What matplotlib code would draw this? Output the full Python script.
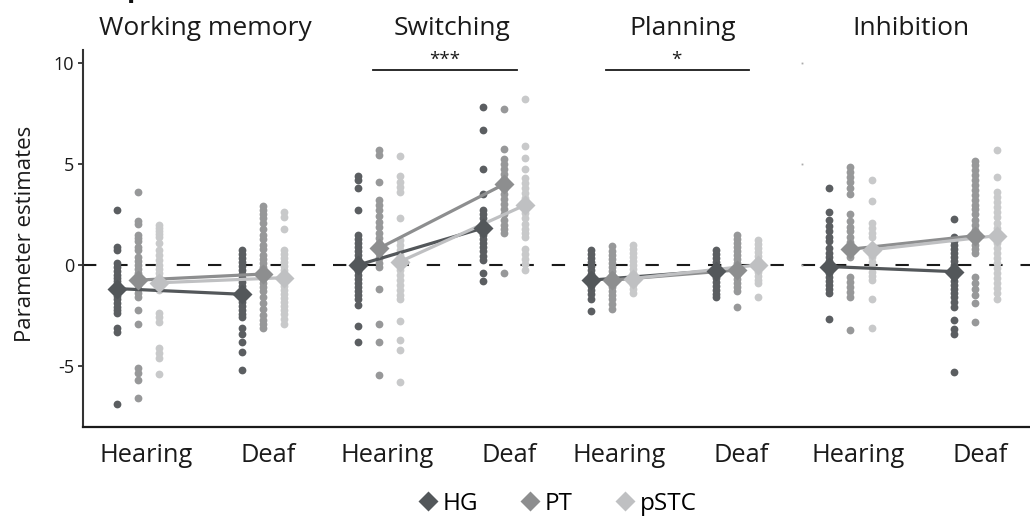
import matplotlib
matplotlib.use("Agg")
import matplotlib.pyplot as plt
from matplotlib.lines import Line2D
from matplotlib.transforms import blended_transform_factory

plt.rcParams['font.family'] = ['Open Sans', 'DejaVu Sans']

# ---------------- data ----------------
tasks = ["Working memory", "Switching", "Planning", "Inhibition"]
groups = ["Hearing", "Deaf"]
regions = ["HG", "PT", "pSTC"]

# group means (Hearing, Deaf) per task
means_HG = [[-1.17, -1.45], [0.0, 1.83], [-0.75, -0.28], [-0.08, -0.33]]
means_PT = [[-0.75, -0.45], [0.83, 4.0], [-0.75, -0.25], [0.78, 1.45]]
means_pSTC = [[-0.88, -0.63], [0.17, 2.97], [-0.67, 0.0], [0.75, 1.45]]

# individual estimates: (Hearing, Deaf)
wm_HG = ([2.7, 0.9, 0.75, 0.1, -0.1, -0.3, -0.5, -0.65, -0.8, -0.95, -1.1, -1.25, -1.4, -1.55, -1.7, -1.9, -2.1, -2.25, -2.4, -3.1, -3.3, -6.9],
         [0.75, 0.55, 0.35, 0.15, -0.05, -0.25, -0.45, -0.65, -0.85, -1.05, -1.25, -1.45, -1.65, -1.85, -2.05, -2.25, -2.45, -2.6, -3.1, -3.4, -3.8, -4.3, -5.2])
wm_PT = ([3.6, 2.2, 2.05, 1.5, 1.35, 1.2, 0.9, 0.75, 0.4, 0.2, 0.0, -0.2, -0.4, -0.6, -0.8, -1.0, -1.2, -1.4, -1.6, -2.25, -2.9, -5.1, -5.35, -5.7, -6.6],
         [2.9, 2.7, 2.5, 2.3, 2.1, 1.8, 1.5, 1.3, 1.0, 0.8, 0.5, 0.3, 0.1, -0.1, -0.3, -0.5, -0.7, -0.9, -1.1, -1.3, -1.6, -1.9, -2.2, -2.5, -2.7, -2.9, -3.1])
wm_pSTC = ([2.0, 1.85, 1.7, 1.55, 1.4, 1.1, 0.75, 0.5, 0.25, 0.0, -0.2, -0.4, -0.6, -0.8, -1.0, -1.25, -2.4, -2.6, -2.8, -4.1, -4.35, -4.6, -5.4],
           [2.6, 2.35, 1.8, 0.75, 0.55, 0.35, 0.15, -0.05, -0.25, -0.45, -0.65, -0.85, -1.05, -1.25, -1.45, -1.65, -1.85, -2.05, -2.25, -2.45, -2.65, -2.9])

sw_HG = ([4.4, 4.2, 3.8, 2.7, 1.5, 1.3, 1.1, 0.9, 0.7, 0.5, 0.3, 0.1, -0.1, -0.3, -0.5, -0.7, -0.9, -1.1, -1.3, -1.5, -1.7, -2.0, -3.0, -3.8],
         [7.8, 6.7, 4.75, 3.5, 2.7, 2.5, 2.3, 2.1, 1.9, 1.7, 1.5, 1.3, 1.1, 0.9, 0.7, 0.45, 0.25, -0.4, -0.8])
sw_PT = ([5.7, 5.45, 4.1, 3.2, 2.95, 2.7, 2.4, 2.15, 1.9, 1.6, 1.35, 1.1, 0.85, 0.6, 0.35, 0.1, -0.1, -1.2, -2.9, -3.8, -5.45],
         [7.7, 5.75, 5.25, 5.0, 4.75, 4.5, 4.25, 4.0, 3.75, 3.5, 3.25, 3.0, 2.75, 2.5, 2.25, 2.0, 1.8, 1.6, -0.4])
sw_pSTC = ([5.4, 4.4, 4.1, 3.85, 3.6, 2.3, 1.25, 1.0, 0.75, 0.5, 0.25, 0.0, -0.25, -0.5, -0.75, -1.0, -1.25, -1.5, -1.7, -2.75, -3.7, -4.2, -5.8],
           [8.2, 5.9, 5.3, 4.75, 4.3, 4.05, 3.8, 3.55, 3.3, 3.05, 2.8, 2.55, 2.3, 2.05, 1.8, 1.6, 1.4, 0.8, 0.55, 0.3, 0.05, -0.25])

pl_HG = ([0.75, 0.55, 0.35, 0.15, -0.05, -0.25, -0.45, -0.65, -0.85, -1.05, -1.25, -1.45, -1.67, -2.3],
         [0.75, 0.55, 0.35, 0.15, -0.05, -0.25, -0.45, -0.65, -0.85, -1.05, -1.25, -1.45, -1.6])
pl_PT = ([0.92, 0.7, 0.5, 0.3, 0.1, -0.1, -0.3, -0.5, -0.7, -0.9, -1.1, -1.3, -1.5, -1.7, -1.95, -2.17],
         [1.5, 1.3, 1.1, 0.9, 0.7, 0.5, 0.3, 0.1, -0.1, -0.3, -0.5, -0.7, -0.9, -1.1, -1.3, -2.1])
pl_pSTC = ([1.0, 0.8, 0.6, 0.4, 0.2, 0.0, -0.2, -0.4, -0.6, -0.8, -1.0, -1.2, -1.4],
           [1.25, 1.05, 0.85, 0.65, 0.45, 0.25, 0.05, -0.15, -0.35, -0.55, -0.75, -0.9, -1.6])

in_HG = ([3.83, 2.6, 2.25, 1.95, 1.67, 1.4, 1.17, 0.83, 0.6, 0.4, 0.2, 0.0, -0.2, -0.4, -0.6, -0.8, -1.0, -1.2, -1.4, -2.67],
         [2.28, 1.4, 1.2, 1.0, 0.8, 0.6, 0.4, 0.2, 0.0, -0.2, -0.4, -0.6, -0.8, -1.0, -1.2, -1.4, -1.6, -1.85, -2.1, -2.7, -3.17, -3.4, -5.3])
in_PT = ([4.83, 4.6, 4.35, 4.1, 3.8, 3.5, 2.5, 2.2, 1.9, 1.67, 1.4, 1.15, 0.9, 0.65, 0.4, -0.6, -0.85, -1.1, -1.35, -1.6, -3.2],
         [5.17, 4.95, 4.7, 4.45, 4.2, 3.95, 3.7, 3.45, 3.2, 2.95, 2.75, 2.5, 2.25, 2.0, 1.75, 1.5, 1.25, 1.0, 0.8, 0.6, -0.6, -0.9, -1.2, -1.5, -1.9, -2.83])
in_pSTC = ([4.2, 3.17, 2.1, 1.85, 1.6, 1.4, 0.9, 0.65, 0.4, 0.15, -0.1, -0.35, -0.55, -0.75, -1.67, -3.13],
           [5.7, 4.33, 3.6, 3.35, 3.1, 2.85, 2.6, 2.35, 2.1, 1.85, 1.6, 1.35, 1.1, 0.85, 0.6, 0.35, 0.1, -0.15, -0.4, -0.65, -0.9, -1.15, -1.4, -1.67])

significance = ["", "***", "*", ""]
stray_marks = [10, 5, 0]

y_ticks = [-5, 0, 5, 10]
y_ticklabels = ["-5", "0", "5", "10"]

# ---------------- style / layout ----------------
mean_colors = {"HG": "#53575a", "PT": "#8d8e8f", "pSTC": "#bfc0c2"}
dot_colors = {"HG": "#5b5e61", "PT": "#979899", "pSTC": "#c8c9ca"}
panel_base = [0.0, 1.93, 3.79, 5.70]
title_x = [0.54, 2.51, 4.36, 6.18]
label_shift = [0.062, 0.038]
group_step = 1.0
region_offset = {"HG": -0.168, "PT": 0.0, "pSTC": 0.168}

dots = {
    "HG": [wm_HG, sw_HG, pl_HG, in_HG],
    "PT": [wm_PT, sw_PT, pl_PT, in_PT],
    "pSTC": [wm_pSTC, sw_pSTC, pl_pSTC, in_pSTC],
}
means = {"HG": means_HG, "PT": means_PT, "pSTC": means_pSTC}

fig = plt.figure(figsize=(10.3, 5.16), dpi=100)
ax = fig.add_axes([83 / 1030, 1 - 427 / 516, 1 - 83 / 1030, (427 - 50) / 516])
ax.set_xlim(-0.44, 7.136)
ax.set_ylim(-8.02, 10.64)

# zero line
ax.axhline(0, color="#1a1a1a", lw=1.5, linestyle=(0, (6.4, 8.6)), zorder=1)

trans = blended_transform_factory(ax.transData, ax.transAxes)
for ti, task in enumerate(tasks):
    base = panel_base[ti]
    for r in regions:
        for gi in range(2):
            vals = dots[r][ti][gi]
            x = base + gi * group_step + region_offset[r]
            ax.plot([x] * len(vals), vals, "o", ms=5.6, mec="none",
                    color=dot_colors[r], zorder=2)
    for r in regions:
        xs = [base + gi * group_step + region_offset[r] for gi in range(2)]
        ax.plot(xs, means[r][ti], "-", lw=2.3, color=mean_colors[r], zorder=3,
                solid_capstyle="butt")
    for r in regions:
        xs = [base + gi * group_step + region_offset[r] for gi in range(2)]
        ax.plot(xs, means[r][ti], "D", ms=10, mec="none", color=mean_colors[r], zorder=4)

    ax.text(title_x[ti], 1.057, task, transform=trans, ha="center", va="center",
            fontsize=19, color="#1a1a1a")
    if significance[ti]:
        ax.plot([base - 0.05, base + 1.10], [9.65, 9.65], color="#1a1a1a", lw=1.3,
                zorder=3)
        ax.text(base + 0.52, 9.72, significance[ti], ha="center", va="bottom",
                fontsize=13.5, color="#1a1a1a")

# stray tiny marks
ax.plot([panel_base[3] - 0.39] * len(stray_marks), stray_marks, "s", ms=1.3,
        color="#aaaaaa", mec="none", zorder=2)

# axes styling
for s in ["top", "right"]:
    ax.spines[s].set_visible(False)
ax.spines["left"].set_linewidth(1.5)
ax.spines["left"].set_color("#333333")
ax.spines["bottom"].set_linewidth(1.6)
ax.spines["bottom"].set_color("#1a1a1a")

ax.set_yticks(y_ticks)
ax.set_yticklabels(y_ticklabels)
ax.tick_params(axis="y", length=3.5, width=1.3, color="#333333", labelsize=13,
               pad=3, labelcolor="#1a1a1a")

xt = []
xl = []
for ti in range(len(tasks)):
    for gi, g in enumerate(groups):
        xt.append(panel_base[ti] + gi * group_step + label_shift[gi])
        xl.append(g)
ax.set_xticks(xt)
ax.set_xticklabels(xl)
ax.tick_params(axis="x", length=0, labelsize=18.3, pad=11.5, labelcolor="#1a1a1a")

ax.set_ylabel("Parameter estimates", fontsize=16, color="#1a1a1a")
ax.yaxis.set_label_coords(-0.05, 0.513)

# legend
handles = [Line2D([], [], marker="D", ls="none", ms=10, mec="none", color=mean_colors[r])
           for r in regions]
fig.legend(handles, regions, loc="center", bbox_to_anchor=(556 / 1030, 1 - 504 / 516),
           ncol=3, frameon=False, fontsize=17.5, handletextpad=0.1, columnspacing=1.65,
           handlelength=1.0, borderaxespad=0, borderpad=0)

# partially visible heading at the very top
fig.text(0.123, 1.008, "p", fontsize=20, fontweight="bold", va="baseline", color="#111111")

fig.savefig("out.png", dpi=100)
